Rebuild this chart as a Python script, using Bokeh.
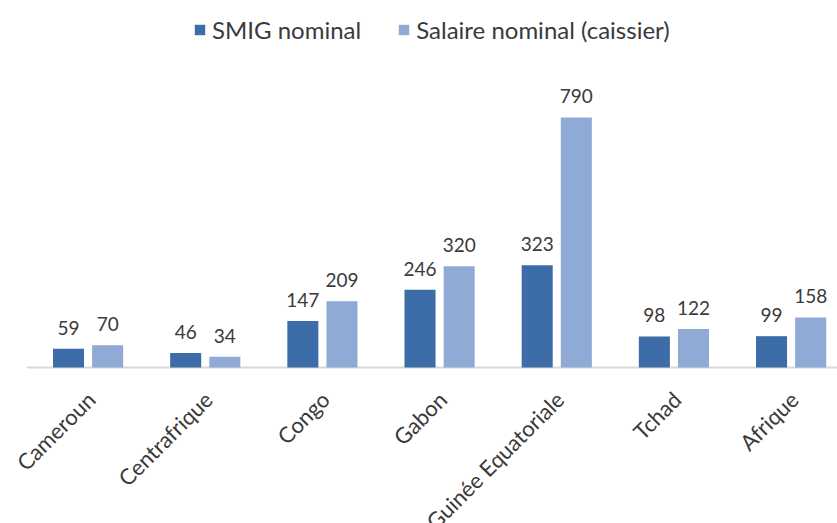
import numpy as np
from math import pi
from bokeh.plotting import figure
from bokeh.models import ColumnDataSource, Range1d, Legend, LegendItem
from bokeh.core.properties import value
from bokeh.embed import file_html
from bokeh.resources import INLINE

categories = ["Cameroun", "Centrafrique", "Congo", "Gabon",
              "Guinée Equatoriale", "Tchad", "Afrique"]
smig = [59, 46, 147, 246, 323, 98, 99]
salaire = [70, 34, 209, 320, 790, 122, 158]
series_names = ["SMIG nominal", "Salaire nominal (caissier)"]
colors = ["#3d6da8", "#8faad5"]

FONT = "Lato"
TXT = "#3a3a3a"

idx = np.arange(len(categories)) + 0.5
off = 0.167
bw = 0.265

src = ColumnDataSource(dict(
    cx=idx, x1=idx - off, x2=idx + off,
    smig=smig, sal=salaire,
    smig_t=[str(v) for v in smig], sal_t=[str(v) for v in salaire],
    cat=categories, zero=[0] * len(categories),
))

p = figure(width=837, height=523, output_backend="svg", toolbar_location=None,
           x_range=Range1d(-0.2475, 6.896), y_range=Range1d(-492.9, 1159.6),
           min_border_left=0, min_border_right=0, min_border_top=0, min_border_bottom=0,
           outline_line_color=None)
p.axis.visible = False
p.grid.visible = False
p.background_fill_color = "white"
p.border_fill_color = "white"

# baseline
p.segment(x0=[-0.02], y0=[0], x1=[float(len(categories))], y1=[0],
          line_color="#d9d9d9", line_width=2)

r1 = p.vbar(x="x1", top="smig", width=bw, source=src, fill_color=colors[0], line_color=None)
r2 = p.vbar(x="x2", top="sal", width=bw, source=src, fill_color=colors[1], line_color=None)

p.text(x="x1", y="smig", text="smig_t", source=src, text_align="center",
       text_baseline="bottom", y_offset=-14, text_font=value(FONT),
       text_font_size="19px", text_color=TXT)
p.text(x="x2", y="sal", text="sal_t", source=src, text_align="center",
       text_baseline="bottom", y_offset=-14, text_font=value(FONT),
       text_font_size="19px", text_color=TXT)

p.text(x="cx", y="zero", text="cat", source=src, angle=pi / 4,
       text_align="right", text_baseline="middle", x_offset=3, y_offset=28,
       text_font=value(FONT), text_font_size="22px", text_color=TXT)

legend = Legend(items=[LegendItem(label=series_names[0], renderers=[r1]),
                       LegendItem(label=series_names[1], renderers=[r2])],
                orientation="horizontal", location=(193, 479),
                padding=0, margin=0, spacing=36, glyph_width=13, glyph_height=13,
                label_standoff=6, label_text_font=FONT, label_text_font_size="24px",
                label_text_color=TXT, border_line_color=None,
                background_fill_alpha=0)
p.add_layout(legend)

open("out.html", "w").write(file_html(p, INLINE))
